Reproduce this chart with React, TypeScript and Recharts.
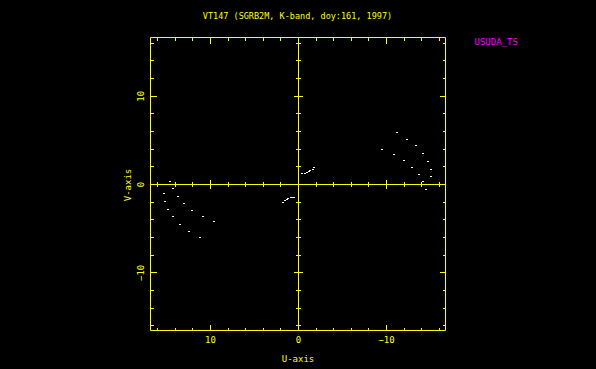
import React from "react";
import { ScatterChart, Scatter, XAxis, YAxis, ReferenceLine } from "recharts";

// uv-coverage tracks (U, V in the plot units)
const rightU = [-11.14, -12.35, -13.38, -9.51, -14.17, -10.8, -14.74, -11.93, -12.92, -15.05, -13.64, -15.08, -14.14, -14.43];
const rightV = [5.92, 5.21, 4.45, 4.08, 3.62, 3.43, 2.72, 2.75, 2.04, 1.81, 1.2, 0.91, 0.37, -0.53];
const leftU = [14.55, 14.24, 15.23, 13.75, 15.15, 13.02, 12.05, 14.84, 10.91, 14.24, 9.58, 13.48, 12.42, 11.25];
const leftV = [0.45, -0.39, -0.95, -1.25, -1.86, -2.04, -2.83, -2.8, -3.51, -3.62, -4.16, -4.46, -5.25, -5.97];
const centerUpU = [-0.45, -0.68, -0.95, -1.18, -1.36, -1.59, -1.75];
const centerUpV = [1.31, 1.36, 1.47, 1.54, 1.7, 1.81, 1.93];
const centerLoU = [1.82, 1.59, 1.36, 1.14, 0.91, 0.68, 0.52];
const centerLoV = [-1.97, -1.78, -1.63, -1.52, -1.44, -1.4, -1.36];

const tickValues = [-16, -14, -12, -10, -8, -6, -4, -2, 0, 2, 4, 6, 8, 10, 12, 14, 16];
const labelValues = [-10, 0, 10];

const title = "VT147 (SGRB2M, K-band, doy:161, 1997)";
const station = "USUDA_TS";
const xTitle = "U-axis";
const yTitle = "V-axis";

const YEL = "#ffff00";
const MAG = "#ff00ff";
const FONT = "'DejaVu Sans Mono', monospace";
const FS = 9;
const FS_TITLE = 8.5;

const toPts = (us: number[], vs: number[]) => us.map((u, i) => ({ u, v: vs[i] }));
const allPts = [
  ...toPts(rightU, rightV),
  ...toPts(leftU, leftV),
  ...toPts(centerUpU, centerUpV),
  ...toPts(centerLoU, centerLoV),
];

const fmt = (v: number) => (v < 0 ? "\u2212" + Math.abs(v) : String(v));

const makeTick = (side: "bottom" | "top" | "left" | "right") => (props: any) => {
  const { x, y, payload } = props;
  const v = payload.value;
  const major = v % 10 === 0;
  const len = major ? 6 : 3;
  const showLabel = labelValues.includes(v);
  let line = null;
  let label = null;
  if (side === "bottom") {
    line = <line x1={x} y1={y} x2={x} y2={y - len} stroke={YEL} shapeRendering="crispEdges" />;
    if (showLabel)
      label = (
        <text x={x} y={y + 9.5} fill={YEL} fontSize={FS} fontFamily={FONT} textAnchor="middle" dominantBaseline="central">
          {fmt(v)}
        </text>
      );
  } else if (side === "top") {
    line = <line x1={x} y1={y} x2={x} y2={y + len} stroke={YEL} shapeRendering="crispEdges" />;
  } else if (side === "left") {
    line = <line x1={x} y1={y} x2={x + len} y2={y} stroke={YEL} shapeRendering="crispEdges" />;
    if (showLabel) {
      const lx = x - 9;
      label = (
        <text x={lx} y={y} fill={YEL} fontSize={FS} fontFamily={FONT} textAnchor="middle" dominantBaseline="central" transform={`rotate(-90 ${lx} ${y})`}>
          {fmt(v)}
        </text>
      );
    }
  } else {
    line = <line x1={x} y1={y} x2={x - len} y2={y} stroke={YEL} shapeRendering="crispEdges" />;
  }
  return (
    <g>
      {line}
      {label}
    </g>
  );
};

const Dot = (props: any) => {
  const { cx, cy } = props;
  return <rect x={Math.round(cx) - 1} y={Math.round(cy)} width={2} height={1} fill="#ffffff" shapeRendering="crispEdges" />;
};

const U_DOMAIN: [number, number] = [-16.7, 16.82];
const V_DOMAIN: [number, number] = [-16.53, 16.65];
const HALF_MINOR = 0.25;
const HALF_MAJOR = 0.5;

export default function App() {
  const zeroTicks = tickValues.filter((t) => t !== 0);
  return (
    <div style={{ position: "absolute", left: 0, top: 0, width: 596, height: 369, background: "#000", overflow: "hidden" }}>
      <ScatterChart width={596} height={369} margin={{ top: 36.5, right: 149.5, bottom: 37.5, left: 149.5 }}>
        <XAxis xAxisId="b" dataKey="u" type="number" orientation="bottom" domain={U_DOMAIN} reversed allowDataOverflow ticks={tickValues} interval={0} height={1} tickSize={0} tickMargin={0} tickLine={false} axisLine={{ stroke: YEL }} tick={makeTick("bottom")} />
        <XAxis xAxisId="t" dataKey="u" type="number" orientation="top" domain={U_DOMAIN} reversed allowDataOverflow ticks={tickValues} interval={0} height={1} tickSize={0} tickMargin={0} tickLine={false} axisLine={{ stroke: YEL }} tick={makeTick("top")} />
        <YAxis yAxisId="l" dataKey="v" type="number" orientation="left" domain={V_DOMAIN} allowDataOverflow ticks={tickValues} interval={0} width={1} tickSize={0} tickMargin={0} tickLine={false} axisLine={{ stroke: YEL }} tick={makeTick("left")} />
        <YAxis yAxisId="r" dataKey="v" type="number" orientation="right" domain={V_DOMAIN} allowDataOverflow ticks={tickValues} interval={0} width={1} tickSize={0} tickMargin={0} tickLine={false} axisLine={{ stroke: YEL }} tick={makeTick("right")} />
        <ReferenceLine xAxisId="b" yAxisId="l" x={0} stroke={YEL} shapeRendering="crispEdges" />
        <ReferenceLine xAxisId="b" yAxisId="l" y={0} stroke={YEL} shapeRendering="crispEdges" />
        {zeroTicks.map((t) => {
          const h = t % 10 === 0 ? HALF_MAJOR : HALF_MINOR;
          return (
            <ReferenceLine
              key={"h" + t}
              xAxisId="b"
              yAxisId="l"
              segment={[{ x: -h, y: t }, { x: h, y: t }]}
              stroke={YEL}
              shapeRendering="crispEdges"
            />
          );
        })}
        {zeroTicks.map((t) => {
          const h = t % 10 === 0 ? HALF_MAJOR : HALF_MINOR;
          return (
            <ReferenceLine
              key={"v" + t}
              xAxisId="b"
              yAxisId="l"
              segment={[{ x: t, y: -h }, { x: t, y: h }]}
              stroke={YEL}
              shapeRendering="crispEdges"
            />
          );
        })}
        <Scatter xAxisId="b" yAxisId="l" data={allPts} shape={Dot} isAnimationActive={false} />
        <Scatter xAxisId="t" yAxisId="r" data={[]} isAnimationActive={false} />
      </ScatterChart>
      <svg width={596} height={369} style={{ position: "absolute", left: 0, top: 0, pointerEvents: "none" }}>
        <text x={297.5} y={16} fill={YEL} fontSize={FS_TITLE} fontFamily={FONT} textAnchor="middle" dominantBaseline="central">
          {title}
        </text>
        <text x={474.5} y={42} fill={MAG} fontSize={FS} fontFamily={FONT} textAnchor="start" dominantBaseline="central">
          {station}
        </text>
        <text x={298} y={358.5} fill={YEL} fontSize={FS} fontFamily={FONT} textAnchor="middle" dominantBaseline="central">
          {xTitle}
        </text>
        <text x={127.5} y={185} fill={YEL} fontSize={FS} fontFamily={FONT} textAnchor="middle" dominantBaseline="central" transform="rotate(-90 127.5 185)">
          {yTitle}
        </text>
      </svg>
    </div>
  );
}
